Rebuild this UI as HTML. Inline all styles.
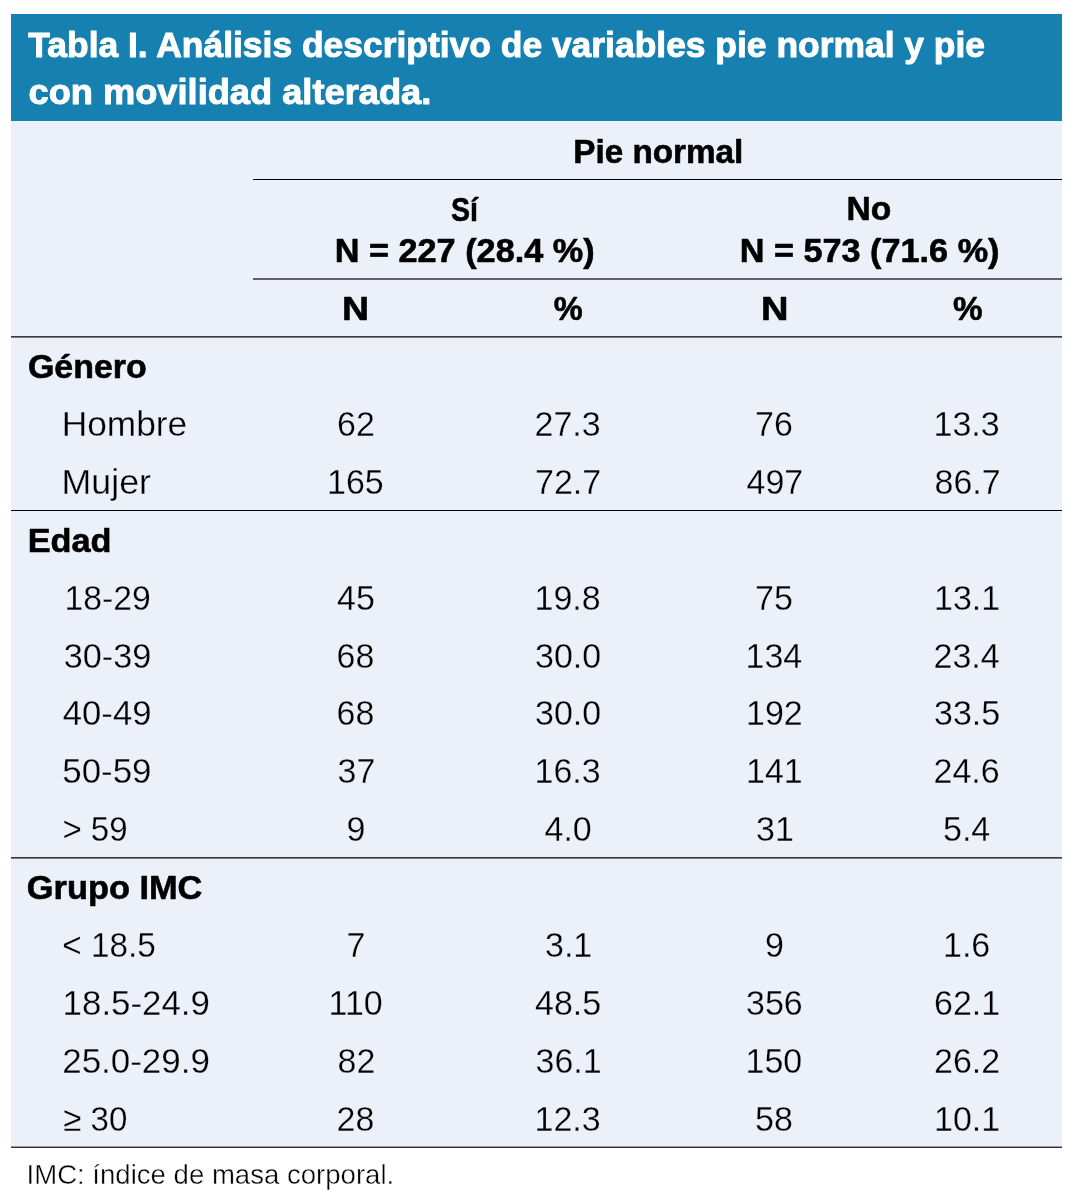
<!DOCTYPE html>
<html lang="es"><head><meta charset="utf-8"><title>Tabla I</title>
<style>
html,body{margin:0;padding:0;background:#fff;width:1074px;height:1203px;overflow:hidden}
svg{display:block}
text{font-family:"Liberation Sans",Arial,sans-serif}
.r{stroke:#ecf0f8;stroke-width:0.3px;stroke-linejoin:round}
.f{stroke:#fff;stroke-width:0.4px;stroke-linejoin:round}
.b{stroke:#000;stroke-width:0.6px;stroke-linejoin:round}
.t{stroke:#fff;stroke-width:1px;stroke-linejoin:round}
</style></head><body>
<svg width="1074" height="1203" viewBox="0 0 1074 1203">
<rect x="11" y="14" width="1051" height="107" fill="#1680b0"/>
<rect x="11" y="121" width="1051" height="1027" fill="#ecf0f8"/>
<rect x="253" y="179" width="809" height="1" fill="#000"/>
<rect x="253" y="278" width="809" height="2" fill="#5f6166"/>
<rect x="11" y="336" width="1051" height="1" fill="#3a3a3a"/>
<rect x="11" y="337" width="1051" height="1" fill="#7a7a7a"/>
<rect x="11" y="510" width="1051" height="1" fill="#000"/>
<rect x="11" y="857" width="1051" height="1" fill="#3a3a3a"/>
<rect x="11" y="858" width="1051" height="1" fill="#7a7a7a"/>
<rect x="11" y="1146" width="1051" height="1" fill="#9a9a9a"/>
<rect x="11" y="1147" width="1051" height="1" fill="#333"/>
<text x="28.30" y="56.6" font-size="35.6" font-weight="bold" fill="#fff" class="t" textLength="956.77" lengthAdjust="spacingAndGlyphs">Tabla I. Análisis descriptivo de variables pie normal y pie</text>
<text x="28.48" y="104.2" font-size="35.6" font-weight="bold" fill="#fff" class="t" textLength="402.84" lengthAdjust="spacingAndGlyphs">con movilidad alterada.</text>
<text x="573.34" y="163" font-size="34" font-weight="bold" fill="#000" class="b" textLength="170.04" lengthAdjust="spacingAndGlyphs">Pie normal</text>
<text x="450.96" y="221" font-size="34" font-weight="bold" fill="#000" class="b" textLength="27.01" lengthAdjust="spacingAndGlyphs">Sí</text>
<text x="334.68" y="262" font-size="34" font-weight="bold" fill="#000" class="b" textLength="260.02" lengthAdjust="spacingAndGlyphs">N = 227 (28.4 %)</text>
<text x="846.62" y="220" font-size="34" font-weight="bold" fill="#000" class="b" textLength="44.79" lengthAdjust="spacingAndGlyphs">No</text>
<text x="739.69" y="262" font-size="34" font-weight="bold" fill="#000" class="b" textLength="259.82" lengthAdjust="spacingAndGlyphs">N = 573 (71.6 %)</text>
<text x="341.90" y="320" font-size="34" font-weight="bold" fill="#000" class="b" textLength="27.00" lengthAdjust="spacingAndGlyphs">N</text>
<text x="553.84" y="320" font-size="34" font-weight="bold" fill="#000" class="b" textLength="28.94" lengthAdjust="spacingAndGlyphs">%</text>
<text x="760.96" y="320" font-size="34" font-weight="bold" fill="#000" class="b" textLength="27.49" lengthAdjust="spacingAndGlyphs">N</text>
<text x="952.92" y="320" font-size="34" font-weight="bold" fill="#000" class="b" textLength="29.59" lengthAdjust="spacingAndGlyphs">%</text>
<text x="27.90" y="378" font-size="34" font-weight="bold" fill="#000" class="b" textLength="118.83" lengthAdjust="spacingAndGlyphs">Género</text>
<text x="61.68" y="436" font-size="35" font-weight="normal" fill="#000" class="r" textLength="125.54" lengthAdjust="spacingAndGlyphs">Hombre</text>
<text x="337.00" y="436" font-size="35" class="r" textLength="37.81" lengthAdjust="spacingAndGlyphs">62</text>
<text x="534.50" y="436" font-size="35" class="r" textLength="66.17" lengthAdjust="spacingAndGlyphs">27.3</text>
<text x="755.00" y="436" font-size="35" class="r" textLength="37.81" lengthAdjust="spacingAndGlyphs">76</text>
<text x="933.50" y="436" font-size="35" class="r" textLength="66.17" lengthAdjust="spacingAndGlyphs">13.3</text>
<text x="61.64" y="494" font-size="35" font-weight="normal" fill="#000" class="r" textLength="89.30" lengthAdjust="spacingAndGlyphs">Mujer</text>
<text x="327.00" y="494" font-size="35" class="r" textLength="56.72" lengthAdjust="spacingAndGlyphs">165</text>
<text x="535.00" y="494" font-size="35" class="r" textLength="66.17" lengthAdjust="spacingAndGlyphs">72.7</text>
<text x="746.50" y="494" font-size="35" class="r" textLength="56.72" lengthAdjust="spacingAndGlyphs">497</text>
<text x="934.50" y="494" font-size="35" class="r" textLength="66.17" lengthAdjust="spacingAndGlyphs">86.7</text>
<text x="27.68" y="552" font-size="34" font-weight="bold" fill="#000" class="b" textLength="83.85" lengthAdjust="spacingAndGlyphs">Edad</text>
<text x="64.61" y="610" font-size="35" font-weight="normal" fill="#000" class="r" textLength="86.27" lengthAdjust="spacingAndGlyphs">18-29</text>
<text x="337.00" y="610" font-size="35" class="r" textLength="37.81" lengthAdjust="spacingAndGlyphs">45</text>
<text x="534.50" y="610" font-size="35" class="r" textLength="66.17" lengthAdjust="spacingAndGlyphs">19.8</text>
<text x="755.00" y="610" font-size="35" class="r" textLength="37.81" lengthAdjust="spacingAndGlyphs">75</text>
<text x="934.00" y="610" font-size="35" class="r" textLength="66.17" lengthAdjust="spacingAndGlyphs">13.1</text>
<text x="63.72" y="668" font-size="35" font-weight="normal" fill="#000" class="r" textLength="87.58" lengthAdjust="spacingAndGlyphs">30-39</text>
<text x="336.50" y="668" font-size="35" class="r" textLength="37.81" lengthAdjust="spacingAndGlyphs">68</text>
<text x="535.00" y="668" font-size="35" class="r" textLength="66.17" lengthAdjust="spacingAndGlyphs">30.0</text>
<text x="745.50" y="668" font-size="35" class="r" textLength="56.72" lengthAdjust="spacingAndGlyphs">134</text>
<text x="933.50" y="668" font-size="35" class="r" textLength="66.17" lengthAdjust="spacingAndGlyphs">23.4</text>
<text x="62.81" y="725" font-size="35" font-weight="normal" fill="#000" class="r" textLength="88.71" lengthAdjust="spacingAndGlyphs">40-49</text>
<text x="336.50" y="725" font-size="35" class="r" textLength="37.81" lengthAdjust="spacingAndGlyphs">68</text>
<text x="535.00" y="725" font-size="35" class="r" textLength="66.17" lengthAdjust="spacingAndGlyphs">30.0</text>
<text x="746.00" y="725" font-size="35" class="r" textLength="56.72" lengthAdjust="spacingAndGlyphs">192</text>
<text x="934.00" y="725" font-size="35" class="r" textLength="66.17" lengthAdjust="spacingAndGlyphs">33.5</text>
<text x="62.31" y="783" font-size="35" font-weight="normal" fill="#000" class="r" textLength="89.22" lengthAdjust="spacingAndGlyphs">50-59</text>
<text x="337.50" y="783" font-size="35" class="r" textLength="37.81" lengthAdjust="spacingAndGlyphs">37</text>
<text x="534.50" y="783" font-size="35" class="r" textLength="66.17" lengthAdjust="spacingAndGlyphs">16.3</text>
<text x="746.00" y="783" font-size="35" class="r" textLength="56.72" lengthAdjust="spacingAndGlyphs">141</text>
<text x="933.50" y="783" font-size="35" class="r" textLength="66.17" lengthAdjust="spacingAndGlyphs">24.6</text>
<text x="62.42" y="841" font-size="35" font-weight="normal" fill="#000" class="r" textLength="65.12" lengthAdjust="spacingAndGlyphs">&gt; 59</text>
<text x="346.50" y="841" font-size="35" class="r" textLength="18.91" lengthAdjust="spacingAndGlyphs">9</text>
<text x="544.50" y="841" font-size="35" class="r" textLength="47.27" lengthAdjust="spacingAndGlyphs">4.0</text>
<text x="756.00" y="841" font-size="35" class="r" textLength="37.81" lengthAdjust="spacingAndGlyphs">31</text>
<text x="943.00" y="841" font-size="35" class="r" textLength="47.27" lengthAdjust="spacingAndGlyphs">5.4</text>
<text x="26.89" y="899" font-size="34" font-weight="bold" fill="#000" class="b" textLength="175.49" lengthAdjust="spacingAndGlyphs">Grupo IMC</text>
<text x="62.30" y="957" font-size="35" font-weight="normal" fill="#000" class="r" textLength="93.42" lengthAdjust="spacingAndGlyphs">&lt; 18.5</text>
<text x="346.50" y="957" font-size="35" class="r" textLength="18.91" lengthAdjust="spacingAndGlyphs">7</text>
<text x="545.00" y="957" font-size="35" class="r" textLength="47.27" lengthAdjust="spacingAndGlyphs">3.1</text>
<text x="765.00" y="957" font-size="35" class="r" textLength="18.91" lengthAdjust="spacingAndGlyphs">9</text>
<text x="943.00" y="957" font-size="35" class="r" textLength="47.27" lengthAdjust="spacingAndGlyphs">1.6</text>
<text x="62.61" y="1015" font-size="35" font-weight="normal" fill="#000" class="r" textLength="147.29" lengthAdjust="spacingAndGlyphs">18.5-24.9</text>
<text x="328.50" y="1015" font-size="35" class="r" textLength="54.20" lengthAdjust="spacingAndGlyphs">110</text>
<text x="535.00" y="1015" font-size="35" class="r" textLength="66.17" lengthAdjust="spacingAndGlyphs">48.5</text>
<text x="746.00" y="1015" font-size="35" class="r" textLength="56.72" lengthAdjust="spacingAndGlyphs">356</text>
<text x="934.00" y="1015" font-size="35" class="r" textLength="66.17" lengthAdjust="spacingAndGlyphs">62.1</text>
<text x="62.20" y="1073" font-size="35" font-weight="normal" fill="#000" class="r" textLength="147.70" lengthAdjust="spacingAndGlyphs">25.0-29.9</text>
<text x="337.50" y="1073" font-size="35" class="r" textLength="37.81" lengthAdjust="spacingAndGlyphs">82</text>
<text x="535.50" y="1073" font-size="35" class="r" textLength="66.17" lengthAdjust="spacingAndGlyphs">36.1</text>
<text x="745.50" y="1073" font-size="35" class="r" textLength="56.72" lengthAdjust="spacingAndGlyphs">150</text>
<text x="934.00" y="1073" font-size="35" class="r" textLength="66.17" lengthAdjust="spacingAndGlyphs">26.2</text>
<text x="63.25" y="1131" font-size="35" font-weight="normal" fill="#000" class="r" textLength="64.21" lengthAdjust="spacingAndGlyphs">≥ 30</text>
<text x="336.50" y="1131" font-size="35" class="r" textLength="37.81" lengthAdjust="spacingAndGlyphs">28</text>
<text x="534.50" y="1131" font-size="35" class="r" textLength="66.17" lengthAdjust="spacingAndGlyphs">12.3</text>
<text x="755.00" y="1131" font-size="35" class="r" textLength="37.81" lengthAdjust="spacingAndGlyphs">58</text>
<text x="934.00" y="1131" font-size="35" class="r" textLength="66.17" lengthAdjust="spacingAndGlyphs">10.1</text>
<text x="26.53" y="1184" font-size="28" font-weight="normal" fill="#000" class="f" textLength="367.71" lengthAdjust="spacingAndGlyphs">IMC: índice de masa corporal.</text>
</svg>
</body></html>
